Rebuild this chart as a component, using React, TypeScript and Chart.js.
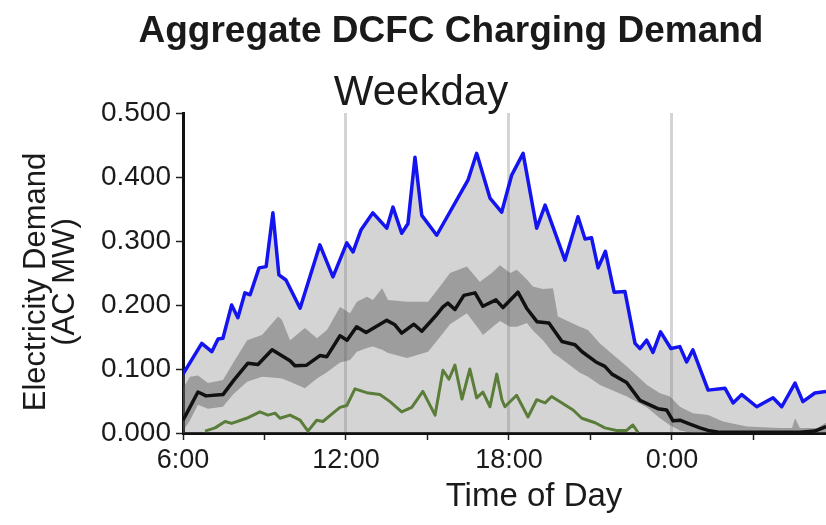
import React, { useEffect, useRef } from 'react';
import { Chart, registerables } from 'chart.js';

Chart.register(...registerables);

const FONT = '"Liberation Sans", Arial, Helvetica, sans-serif';

const TITLE = 'Aggregate DCFC Charging Demand';
const SUBTITLE = 'Weekday';
const X_TITLE = 'Time of Day';
const Y_TITLE = ['Electricity Demand', '(AC MW)'];

// hours after midnight of the weekday (24 = 0:00 next day)
const tickHours = [6, 9, 12, 15, 18, 21, 24, 27];
const labelHours = [6, 12, 18, 24];
const tickLabels = ['6:00', '12:00', '18:00', '0:00'];
const gridHours = [12, 18, 24];
const yTickValues = [0, 0.1, 0.2, 0.3, 0.4, 0.5];

// maximum demand (blue)
const maxHours = [
  6.0, 6.69, 7.06, 7.29, 7.47, 7.79, 8.02, 8.28, 8.47, 8.8, 9.06, 9.31, 9.53, 9.79, 10.31, 11.04,
  11.52, 12.03, 12.26, 12.55, 12.99, 13.5, 13.73, 14.05, 14.28, 14.54, 14.79, 15.34, 16.49, 16.81,
  17.3, 17.73, 18.1, 18.52, 19.02, 19.33, 20.06, 20.54, 20.8, 21.04, 21.28, 21.55, 21.87, 22.27,
  22.64, 22.82, 23.07, 23.3, 23.58, 23.96, 24.29, 24.54, 24.77, 25.33, 25.95, 26.25, 26.57, 27.12,
  27.72, 28.04, 28.53, 28.82, 29.26, 29.67,
];
const maxDemand = [
  0.092, 0.14, 0.127, 0.147, 0.148, 0.2, 0.18, 0.219, 0.216, 0.258, 0.26, 0.344, 0.247, 0.239, 0.195,
  0.294, 0.244, 0.297, 0.283, 0.317, 0.344, 0.32, 0.353, 0.312, 0.327, 0.431, 0.34, 0.309, 0.395,
  0.437, 0.367, 0.345, 0.403, 0.437, 0.32, 0.356, 0.27, 0.338, 0.303, 0.305, 0.258, 0.284, 0.22,
  0.221, 0.14, 0.132, 0.145, 0.126, 0.158, 0.132, 0.135, 0.111, 0.13, 0.067, 0.07, 0.047, 0.06,
  0.041, 0.055, 0.041, 0.078, 0.049, 0.0625, 0.065,
];

// mean demand (black)
const meanHours = [
  6.0, 6.14, 6.55, 6.85, 7.47, 7.88, 8.39, 8.76, 9.28, 9.94, 10.12, 10.55, 11.04, 11.29, 11.78,
  12.04, 12.39, 12.74, 13.5, 13.8, 14.05, 14.5, 14.79, 15.28, 15.57, 15.75, 16.01, 16.34, 16.75,
  17.04, 17.52, 17.78, 18.33, 18.65, 19.03, 19.47, 19.95, 20.43, 20.69, 21.2, 21.53, 21.79, 22.33,
  22.82, 23.48, 23.8, 24.04, 24.29, 24.59, 25.03, 25.33, 25.77, 28.71, 29.26, 29.67,
];
const meanDemand = [
  0.02, 0.031, 0.064, 0.058, 0.06, 0.083, 0.109, 0.107, 0.13, 0.113, 0.105, 0.106, 0.121, 0.119,
  0.152, 0.145, 0.166, 0.157, 0.176, 0.169, 0.156, 0.17, 0.159, 0.182, 0.197, 0.203, 0.193, 0.215,
  0.219, 0.198, 0.208, 0.196, 0.22, 0.195, 0.174, 0.172, 0.143, 0.138, 0.127, 0.111, 0.104, 0.092,
  0.079, 0.051, 0.038, 0.036, 0.019, 0.02, 0.015, 0.008, 0.004, 0.001, 0.001, 0.003, 0.01,
];

// minimum demand (green)
const minHours = [
  6.81, 7.18, 7.55, 7.79, 8.34, 8.83, 9.13, 9.39, 9.57, 9.94, 10.31, 10.6, 10.92, 11.15, 11.52,
  11.78, 12.03, 12.33, 12.76, 13.25, 13.62, 14.05, 14.42, 14.83, 15.28, 15.57, 15.79, 16.01, 16.27,
  16.56, 16.81, 17.04, 17.3, 17.55, 17.74, 17.85, 18.28, 18.7, 19.02, 19.33, 19.57, 20.36, 20.68,
  21.17, 21.53, 21.96, 22.33, 22.56, 22.75,
];
const minDemand = [
  0.003, 0.008, 0.018, 0.015, 0.023, 0.033, 0.028, 0.031, 0.023, 0.028, 0.02, 0.003, 0.02, 0.018,
  0.031, 0.04, 0.043, 0.069, 0.063, 0.06, 0.049, 0.033, 0.04, 0.065, 0.028, 0.098, 0.084, 0.106,
  0.053, 0.1, 0.055, 0.064, 0.041, 0.092, 0.052, 0.041, 0.059, 0.025, 0.052, 0.047, 0.057, 0.036,
  0.023, 0.016, 0.008, 0.004, 0.004, 0.0125, 0.001,
];

// inter-quartile band (dark gray)
const bandHours = [
  6.0, 6.26, 6.55, 6.92, 7.47, 7.84, 8.36, 8.91, 9.5, 9.64, 9.94, 10.49, 10.93, 11.3, 11.78, 12.15,
  12.4, 12.77, 12.99, 13.33, 13.55, 14.25, 15.02, 15.46, 15.83, 16.45, 16.93, 17.04, 17.37, 17.67,
  18.04, 18.29, 18.66, 18.88, 19.25, 19.62, 19.8, 20.61, 20.91, 21.35, 22.34, 23.08, 23.56, 23.93,
  24.29, 24.77, 25.33, 25.88, 26.76, 27.98, 28.42, 28.53, 28.71, 29.34, 29.67,
];
const bandUpper = [
  0.07, 0.088, 0.09, 0.078, 0.083, 0.109, 0.145, 0.153, 0.182, 0.177, 0.145, 0.164, 0.148, 0.161,
  0.197, 0.187, 0.205, 0.213, 0.208, 0.226, 0.208, 0.205, 0.205, 0.229, 0.25, 0.26, 0.236, 0.24,
  0.25, 0.262, 0.25, 0.255, 0.24, 0.229, 0.225, 0.226, 0.182, 0.166, 0.161, 0.14, 0.104, 0.075,
  0.062, 0.057, 0.041, 0.031, 0.028, 0.018, 0.01, 0.008, 0.008, 0.023, 0.008, 0.008, 0.016,
];
const bandLower = [
  0.003, 0.02, 0.044, 0.038, 0.041, 0.06, 0.08, 0.088, 0.086, 0.085, 0.08, 0.07, 0.085, 0.095, 0.11,
  0.114, 0.127, 0.133, 0.135, 0.13, 0.125, 0.117, 0.127, 0.15, 0.17, 0.187, 0.16, 0.153, 0.165,
  0.175, 0.166, 0.166, 0.172, 0.16, 0.145, 0.125, 0.12, 0.094, 0.088, 0.075, 0.057, 0.04, 0.023,
  0.012, 0.004, 0, 0, 0, 0, 0, 0, 0, 0, 0, 0.002,
];

const pts = (xs: number[], ys: number[]) => xs.map((x, i) => ({ x, y: ys[i] }));

const textPlugin = {
  id: 'chartTexts',
  afterDraw(chart: any) {
    const ctx = chart.ctx as CanvasRenderingContext2D;
    ctx.save();
    ctx.fillStyle = '#1a1a1a';
    ctx.textAlign = 'center';
    ctx.textBaseline = 'alphabetic';
    ctx.font = `bold 37px ${FONT}`;
    ctx.fillText(TITLE, 451, 42);
    ctx.font = `42px ${FONT}`;
    ctx.fillText(SUBTITLE, 421, 105);
    ctx.font = `33px ${FONT}`;
    ctx.fillText(X_TITLE, 534, 506);
    const cy = 282;
    ctx.font = `31px ${FONT}`;
    ctx.save();
    ctx.translate(45, cy);
    ctx.rotate(-Math.PI / 2);
    ctx.fillText(Y_TITLE[0], 0, 0);
    ctx.restore();
    ctx.save();
    ctx.translate(74, cy);
    ctx.rotate(-Math.PI / 2);
    ctx.fillText(Y_TITLE[1], 0, 0);
    ctx.restore();
    ctx.restore();
  },
};

export default function App() {
  const ref = useRef<HTMLCanvasElement>(null);

  useEffect(() => {
    if (!ref.current) return;
    Chart.defaults.font.family = FONT;
    const chart = new Chart(ref.current, {
      type: 'line',
      data: {
        datasets: [
          {
            label: 'Mean',
            data: pts(meanHours, meanDemand),
            borderColor: '#111111',
            borderWidth: 3.5,
            borderJoinStyle: 'round',
            pointRadius: 0,
            fill: false,
            tension: 0,
          },
          {
            label: 'Minimum',
            data: pts(minHours, minDemand),
            borderColor: '#5b7d3a',
            borderWidth: 3,
            borderJoinStyle: 'round',
            pointRadius: 0,
            fill: false,
            tension: 0,
          },
          {
            label: 'Upper quartile',
            data: pts(bandHours, bandUpper),
            borderWidth: 0,
            borderColor: 'rgba(0,0,0,0)',
            backgroundColor: 'rgba(80,80,80,0.42)',
            pointRadius: 0,
            fill: '+1',
            tension: 0,
          },
          {
            label: 'Lower quartile',
            data: pts(bandHours, bandLower),
            borderWidth: 0,
            borderColor: 'rgba(0,0,0,0)',
            pointRadius: 0,
            fill: false,
            tension: 0,
          },
          {
            label: 'Maximum',
            data: pts(maxHours, maxDemand),
            borderColor: '#1414f0',
            borderWidth: 3.5,
            borderJoinStyle: 'round',
            backgroundColor: 'rgba(120,120,120,0.32)',
            pointRadius: 0,
            fill: 'origin',
            tension: 0,
          },
        ],
      },
      options: {
        animation: false,
        responsive: true,
        maintainAspectRatio: false,
        layout: { padding: { top: 113, left: 0, right: 0, bottom: 0 } },
        plugins: {
          legend: { display: false },
          tooltip: { enabled: false },
          title: { display: false },
        },
        scales: {
          x: {
            type: 'linear',
            min: 6,
            max: 29.67,
            afterBuildTicks: (scale: any) => {
              scale.ticks = tickHours.map((v) => ({ value: v }));
            },
            afterFit: (scale: any) => {
              scale.height = 92;
            },
            ticks: {
              autoSkip: false,
              maxRotation: 0,
              minRotation: 0,
              padding: 4,
              color: '#1a1a1a',
              font: { size: 27 },
              callback: (v: any) => {
                const i = labelHours.indexOf(Number(v));
                return i >= 0 ? tickLabels[i] : '';
              },
            },
            grid: {
              drawOnChartArea: true,
              drawTicks: true,
              color: (ctx: any) =>
                ctx.tick && gridHours.includes(ctx.tick.value) ? '#d4d4d4' : 'rgba(0,0,0,0)',
              lineWidth: 3,
              tickColor: '#222222',
              tickWidth: 1.5,
              tickLength: 7,
            },
            border: { display: true, color: '#111111', width: 3 },
          },
          y: {
            type: 'linear',
            min: 0,
            max: 0.5,
            afterBuildTicks: (scale: any) => {
              scale.ticks = yTickValues.map((v) => ({ value: v }));
            },
            afterFit: (scale: any) => {
              scale.width = 183;
            },
            ticks: {
              padding: 5,
              color: '#1a1a1a',
              font: { size: 28 },
              callback: (v: any) => Number(v).toFixed(3),
            },
            grid: {
              drawOnChartArea: false,
              drawTicks: true,
              tickColor: '#222222',
              tickWidth: 1.5,
              tickLength: 7,
            },
            border: { display: true, color: '#111111', width: 3 },
          },
        },
      },
      plugins: [textPlugin],
    });
    return () => chart.destroy();
  }, []);

  return (
    <div
      style={{
        position: 'fixed',
        left: 0,
        top: 0,
        width: 826,
        height: 525,
        background: '#ffffff',
      }}
    >
      <canvas ref={ref} />
    </div>
  );
}
